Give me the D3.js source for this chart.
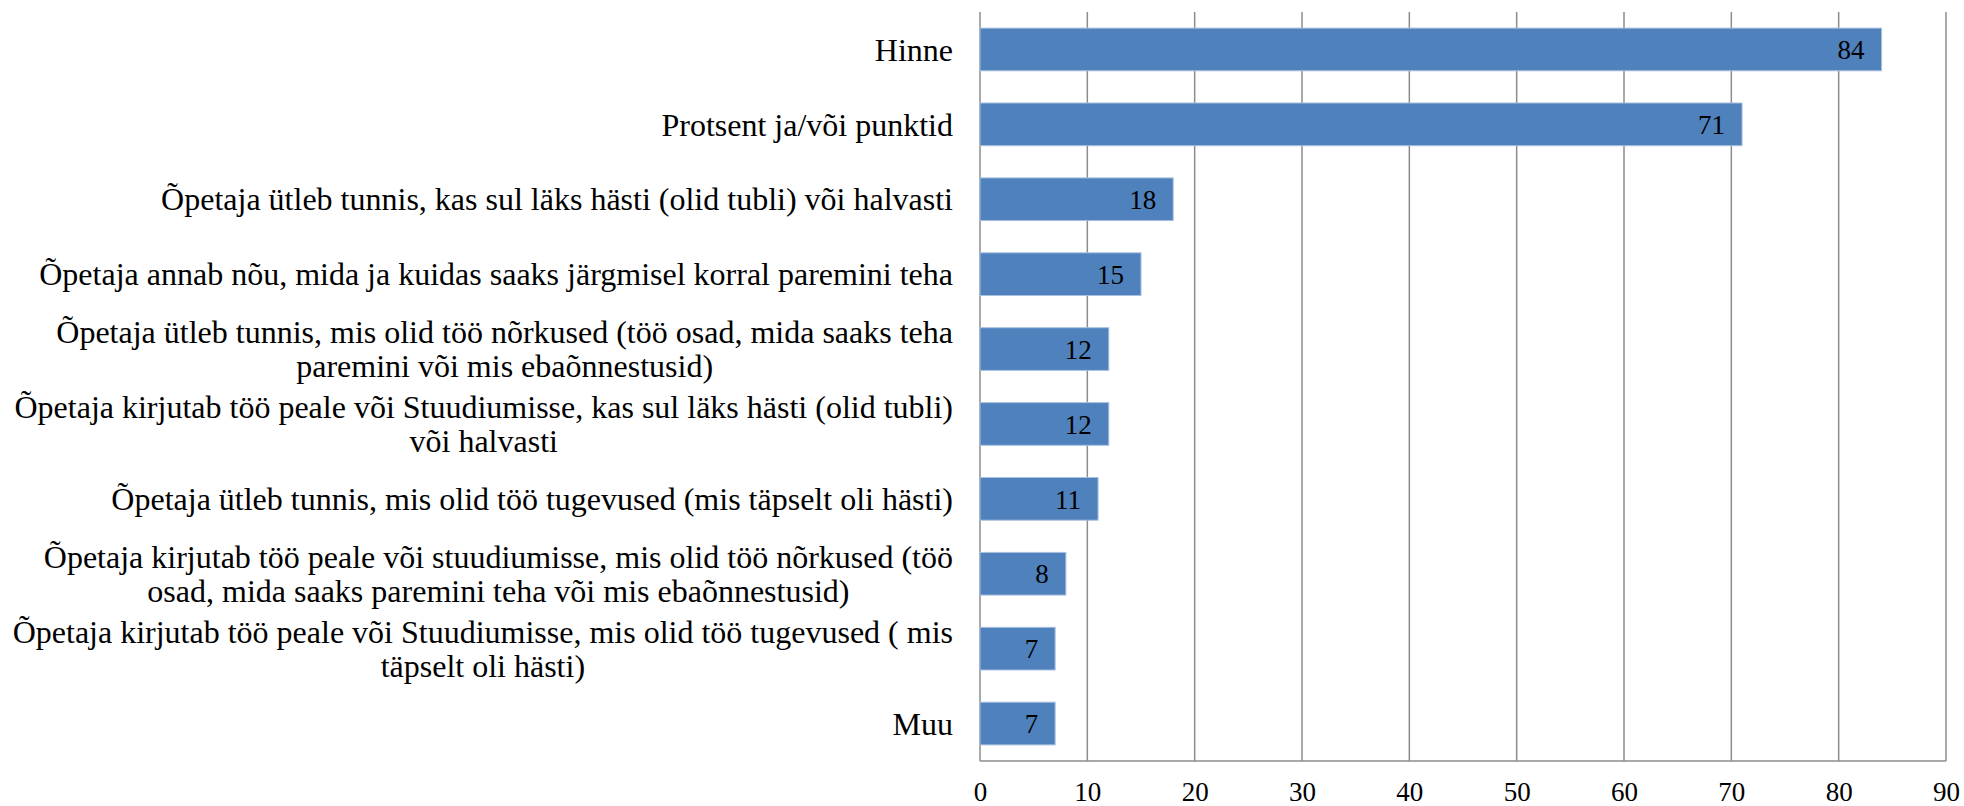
<!DOCTYPE html>
<html><head><meta charset="utf-8">
<script src="https://cdn.jsdelivr.net/npm/d3@7"></script>
<style>html,body{margin:0;padding:0;background:#fff;}svg{display:block;}</style>
</head><body>
<svg id="chart" width="1964" height="806"></svg>
<script>
const categories = [
  "Hinne",
  "Protsent ja/või punktid",
  "Õpetaja ütleb tunnis, kas sul läks hästi (olid tubli) või halvasti",
  "Õpetaja annab nõu, mida ja kuidas saaks järgmisel korral paremini teha",
  "Õpetaja ütleb tunnis, mis olid töö nõrkused (töö osad, mida saaks teha\nparemini või mis ebaõnnestusid)",
  "Õpetaja kirjutab töö peale või Stuudiumisse, kas sul läks hästi (olid tubli)\nvõi halvasti",
  "Õpetaja ütleb tunnis, mis olid töö tugevused (mis täpselt oli hästi)",
  "Õpetaja kirjutab töö peale või stuudiumisse, mis olid töö nõrkused (töö\nosad, mida saaks paremini teha või mis ebaõnnestusid)",
  "Õpetaja kirjutab töö peale või Stuudiumisse, mis olid töö tugevused ( mis\ntäpselt oli hästi)",
  "Muu"
];
const values = [84, 71, 18, 15, 12, 12, 11, 8, 7, 7];
const xTicks = [0, 10, 20, 30, 40, 50, 60, 70, 80, 90];

const FONT = "Liberation Serif";
const svg = d3.select("#chart");
const margin = {left: 980, right: 18, top: 12, bottom: 45};
const W = 1964, H = 806;
const x = d3.scaleLinear().domain([0, 90]).range([margin.left, W - margin.right]);
const y = d3.scaleBand().domain(d3.range(categories.length)).range([margin.top, H - margin.bottom]).paddingInner(0.43).paddingOuter(0.215);

const gridColor = "#8c8c8c";
svg.append("g").selectAll("line").data(xTicks).join("line")
  .attr("x1", d => x(d)).attr("x2", d => x(d))
  .attr("y1", margin.top).attr("y2", H - margin.bottom)
  .attr("stroke", gridColor).attr("stroke-width", 1.5);
svg.append("line").attr("x1", x(0)).attr("x2", x(90))
  .attr("y1", H - margin.bottom).attr("y2", H - margin.bottom)
  .attr("stroke", gridColor).attr("stroke-width", 1.5);

svg.append("g").selectAll("rect").data(values).join("rect")
  .attr("x", x(0)).attr("y", (d, i) => y(i))
  .attr("width", d => x(d) - x(0)).attr("height", y.bandwidth())
  .attr("fill", "#4F81BD").attr("stroke", "#a9c0de").attr("stroke-width", 1);

svg.append("g").selectAll("text").data(values).join("text")
  .attr("x", d => x(d) - 17).attr("y", (d, i) => y(i) + y.bandwidth() / 2)
  .attr("dy", "0.36em").attr("text-anchor", "end")
  .style("font-family", FONT).style("font-size", "27px").attr("fill", "#000").text(d => d);

const xAxis = d3.axisBottom(x).tickValues(xTicks).tickSize(0).tickPadding(0).tickFormat(d3.format("d"));
const ax = svg.append("g").attr("transform", `translate(0,${H - margin.bottom})`).call(xAxis);
ax.select(".domain").remove();
ax.selectAll("text").style("font-family", FONT).style("font-size", "27px")
  .attr("fill", "#000").attr("dy", null).attr("y", 40);

const labelRight = 953;
const lineH = 34;
const lg = svg.append("g");
categories.forEach((c, i) => {
  const lines = c.split("\n");
  const cy = y(i) + y.bandwidth() / 2;
  const t = lg.append("text").attr("text-anchor", "middle")
    .style("font-family", FONT).style("font-size", "32px").attr("fill", "#000");
  const n = lines.length;
  const spans = lines.map((l, k) => t.append("tspan").attr("y", cy + (k - (n - 1) / 2) * lineH).attr("dy", "0.35em").text(l));
  let maxW = 0;
  spans.forEach(s => { maxW = Math.max(maxW, s.node().getComputedTextLength()); });
  spans.forEach(s => s.attr("x", labelRight - maxW / 2));
});
</script>
</body></html>
